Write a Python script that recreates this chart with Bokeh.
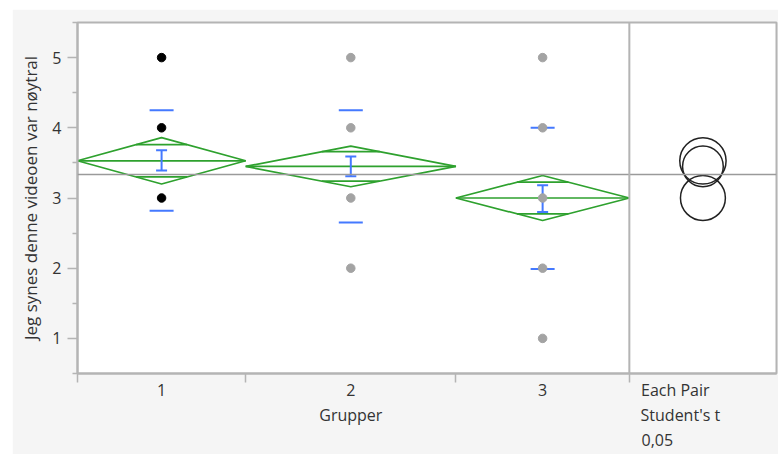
from bokeh.plotting import figure
from bokeh.models import FixedTicker, Range1d, Span
from bokeh.embed import file_html
from bokeh.resources import INLINE

# ---- data ----
groups = ["1", "2", "3"]
group_n = [32, 40, 33]                 # group widths (JMP: proportional to n)
means = [3.53, 3.45, 3.00]
ci_half = [0.33, 0.29, 0.32]           # 95% CI half-width (diamonds / circles)
overlap_half = [0.23, 0.21, 0.225]     # overlap marks offset
se_lo = [3.39, 3.31, 2.80]
se_hi = [3.68, 3.59, 3.18]
sd_lo = [2.82, 2.65, 1.99]
sd_hi = [4.25, 4.25, 4.00]
grand_mean = 3.335
pts_group = ["1", "1", "1", "2", "2", "2", "2", "3", "3", "3", "3", "3"]
pts_value = [5, 4, 3, 5, 4, 3, 2, 5, 4, 3, 2, 1]
y_ticks = [1, 2, 3, 4, 5]
y_minor = [0.5, 1.5, 2.5, 3.5, 4.5, 5.5]
compare_label = ["Each Pair", "Student's t", "0,05"]
x_title = "Grupper"
y_title = "Jeg synes denne videoen var nøytral"

# ---- layout constants ----
PANEL_W = 28
FRAME_PX = 699                      # frame width in pixels
COMPARE_CENTER_PX = [46, 51, 28]    # label centres, px right of the divider
FONT = "Open Sans"
GREEN = "#2ea12e"
BLUE = "#4479ff"
AXIS_GRAY = "#b4b4b4"
TEXT = "#333333"

edges = [0]
for n in group_n:
    edges.append(edges[-1] + n)
centers = [(edges[i] + edges[i + 1]) / 2 for i in range(len(groups))]
x_end = edges[-1] + PANEL_W
px_unit = x_end / FRAME_PX

p = figure(width=766, height=445, output_backend="svg", toolbar_location=None,
           x_range=Range1d(0, x_end), y_range=Range1d(0.5, 5.5),
           min_border_left=65, min_border_top=13, min_border_right=2,
           min_border_bottom=80)
p.margin = (9, 0, 0, 12)
p.border_fill_color = "#f5f5f5"
p.background_fill_color = "white"
p.outline_line_color = AXIS_GRAY
p.outline_line_width = 2
p.xgrid.visible = False
p.ygrid.visible = False

# grand mean & divider
p.add_layout(Span(location=grand_mean, dimension="width", line_color="#9a9a9a", line_width=1.5))
p.add_layout(Span(location=edges[-1], dimension="height", line_color=AXIS_GRAY, line_width=2))

# diamonds
xs, ys = [], []
for i in range(len(groups)):
    l, r, c, m, h = edges[i], edges[i + 1], centers[i], means[i], ci_half[i]
    xs.append([l, c, r, c])
    ys.append([m, m + h, m, m - h])
p.patches(xs, ys, fill_color=None, line_color=GREEN, line_width=1.7)
p.segment(x0=edges[:-1], y0=means, x1=edges[1:], y1=means, line_color=GREEN, line_width=1.7)
ox0, ox1, oy = [], [], []
for i in range(len(groups)):
    w = group_n[i]
    hw = (1 - overlap_half[i] / ci_half[i]) * w / 2
    for s in (1, -1):
        ox0.append(centers[i] - hw)
        ox1.append(centers[i] + hw)
        oy.append(means[i] + s * overlap_half[i])
p.segment(x0=ox0, y0=oy, x1=ox1, y1=oy, line_color=GREEN, line_width=1.7)

# SD and SE markers
p.scatter(centers + centers, sd_lo + sd_hi, marker="dash", size=24, line_color=BLUE, line_width=2)
p.segment(x0=centers, y0=se_lo, x1=centers, y1=se_hi, line_color=BLUE, line_width=2)
p.scatter(centers + centers, se_lo + se_hi, marker="dash", size=11, line_color=BLUE, line_width=2)

# points
gx = {g: centers[i] for i, g in enumerate(groups)}
dot_color = {"1": "black", "2": "#a3a3a3", "3": "#a3a3a3"}
p.scatter([gx[g] for g in pts_group], pts_value, size=8.5,
          fill_color=[dot_color[g] for g in pts_group],
          line_color=[dot_color[g] for g in pts_group])

# comparison circles
cx = edges[-1] + PANEL_W / 2
p.circle(x=[cx] * len(means), y=means, radius=ci_half, radius_dimension="y",
         fill_color=None, line_color="#222222", line_width=1.5)

# x axis: group labels, axis title under the middle group, comparison caption
label_ticks = list(centers)
overrides = {}
for i, (c, g) in enumerate(zip(centers, groups)):
    overrides[c] = g + ("\n" + x_title if i == len(groups) // 2 else "")
for k, (t, cp) in enumerate(zip(compare_label, COMPARE_CENTER_PX)):
    xv = edges[-1] + cp * px_unit
    label_ticks.append(xv)
    overrides[xv] = "\n" * k + t

xa = p.xaxis[0]
xa.ticker = FixedTicker(ticks=label_ticks, minor_ticks=edges)
xa.major_label_overrides = overrides
xa.major_tick_out = 0
xa.major_tick_in = 0
xa.minor_tick_out = 9
xa.minor_tick_in = 0
xa.major_label_standoff = -4
xa.major_label_text_line_height = 1.15

ya = p.yaxis[0]
ya.ticker = FixedTicker(ticks=y_ticks, minor_ticks=y_minor)
ya.major_tick_out = 10
ya.major_tick_in = 0
ya.minor_tick_out = 5
ya.minor_tick_in = 0
ya.axis_label = y_title
ya.major_label_standoff = 6
ya.axis_label_standoff = 7

for ax in (xa, ya):
    ax.axis_line_color = AXIS_GRAY
    ax.axis_line_width = 2
    ax.major_tick_line_color = AXIS_GRAY
    ax.minor_tick_line_color = AXIS_GRAY
    ax.major_tick_line_width = 1.5
    ax.minor_tick_line_width = 1.5
    ax.major_label_text_font = FONT
    ax.major_label_text_font_size = "16px"
    ax.major_label_text_color = TEXT
    ax.axis_label_text_font = FONT
    ax.axis_label_text_font_style = "normal"
    ax.axis_label_text_color = TEXT
ya.axis_label_text_font_size = "17px"

open("out.html", "w").write(file_html(p, INLINE))
